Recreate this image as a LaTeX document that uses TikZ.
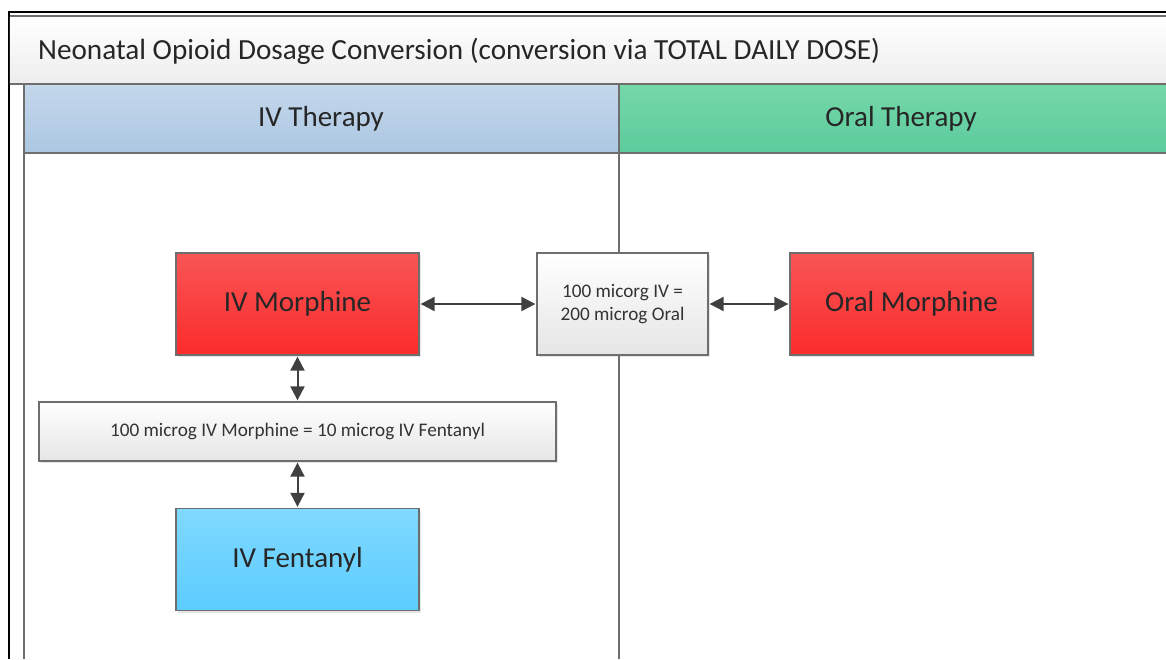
\documentclass[tikz,border=0pt]{standalone}
\usepackage{fontspec}
\setmainfont{Carlito}
\usetikzlibrary{arrows.meta,shadows}
\definecolor{edge}{HTML}{6E6E6E}
\definecolor{arr}{HTML}{404040}
\definecolor{redtop}{HTML}{F95555}
\definecolor{redbot}{HTML}{FB2B2B}
\tikzset{
  box/.style={draw=edge, line width=1.3pt, minimum width=243pt, minimum height=102pt, inner sep=0pt,
    drop shadow={opacity=0.2, shadow xshift=2pt, shadow yshift=-2pt}},
  greybox/.style={draw=edge, line width=1.3pt, inner sep=0pt, top color=white, bottom color=black!10,
    drop shadow={opacity=0.2, shadow xshift=2pt, shadow yshift=-2pt}},
  bigtext/.style={font=\fontsize{29}{34}\selectfont, text=black!85},
  smalltext/.style={font=\fontsize{19.2}{23}\selectfont, text=black!80},
  dbl/.style={{Triangle[length=14pt,width=14pt]}-{Triangle[length=14pt,width=14pt]}, line width=2pt, draw=arr, shorten <=1pt, shorten >=1pt},
}
\begin{document}
\begin{tikzpicture}[x=1pt,y=-1pt]
\useasboundingbox (0,0) rectangle (1166,659);
% outer frame
\draw[black, line width=1.5pt] (9,659) -- (9,12) -- (1166,12);
% title bar
\shade[top color=white, bottom color=black!7] (9.8,16) rectangle (1166,84);
\draw[edge, line width=1.3pt] (9.8,16) -- (1166,16);
\draw[edge, line width=1.3pt] (9.8,84) -- (1166,84);
\node[anchor=west, font=\fontsize{29.2}{34}\selectfont, text=black!85, inner sep=0pt] (title) at (38,51) {Neonatal Opioid Dosage Conversion (conversion via TOTAL DAILY DOSE)};
% lane headers
\shade[top color={rgb,255:red,196;green,215;blue,235}, bottom color={rgb,255:red,172;green,199;blue,226}] (24,85) rectangle (619,153);
\shade[top color={rgb,255:red,117;green,215;blue,170}, bottom color={rgb,255:red,92;green,204;blue,156}] (619,85) rectangle (1166,153);
\draw[edge, line width=1.3pt] (24,153) -- (1166,153);
\draw[edge, line width=1.3pt] (24,84) -- (24,659);
\draw[edge, line width=1.3pt] (619,84) -- (619,659);
\node[bigtext] (ivh) at (321,119) {IV Therapy};
\node[bigtext] (orh) at (901,119) {Oral Therapy};
% nodes
\node[box, top color=redtop, bottom color=redbot, bigtext] (ivm) at (297.5,304) {IV Morphine};
\node[box, top color=redtop, bottom color=redbot, bigtext] (orm) at (911.5,304) {Oral Morphine};
\node[greybox, minimum width=171pt, minimum height=102pt, align=center, smalltext] (conv1) at (622.5,304) {100 micorg IV =\\200 microg Oral};
\node[greybox, minimum width=517pt, minimum height=59pt, smalltext] (conv2) at (297.5,431.5) {100 microg IV Morphine = 10 microg IV Fentanyl};
\node[box, top color={rgb,255:red,128;green,217;blue,255}, bottom color={rgb,255:red,92;green,204;blue,255}, bigtext] (ivf) at (297.5,559.5) {IV Fentanyl};
% connectors
\draw[dbl] (ivm) -- (conv1);
\draw[dbl] (conv1) -- (orm);
\draw[dbl] (ivm) -- (conv2);
\draw[dbl] (conv2) -- (ivf);
\end{tikzpicture}
\end{document}
